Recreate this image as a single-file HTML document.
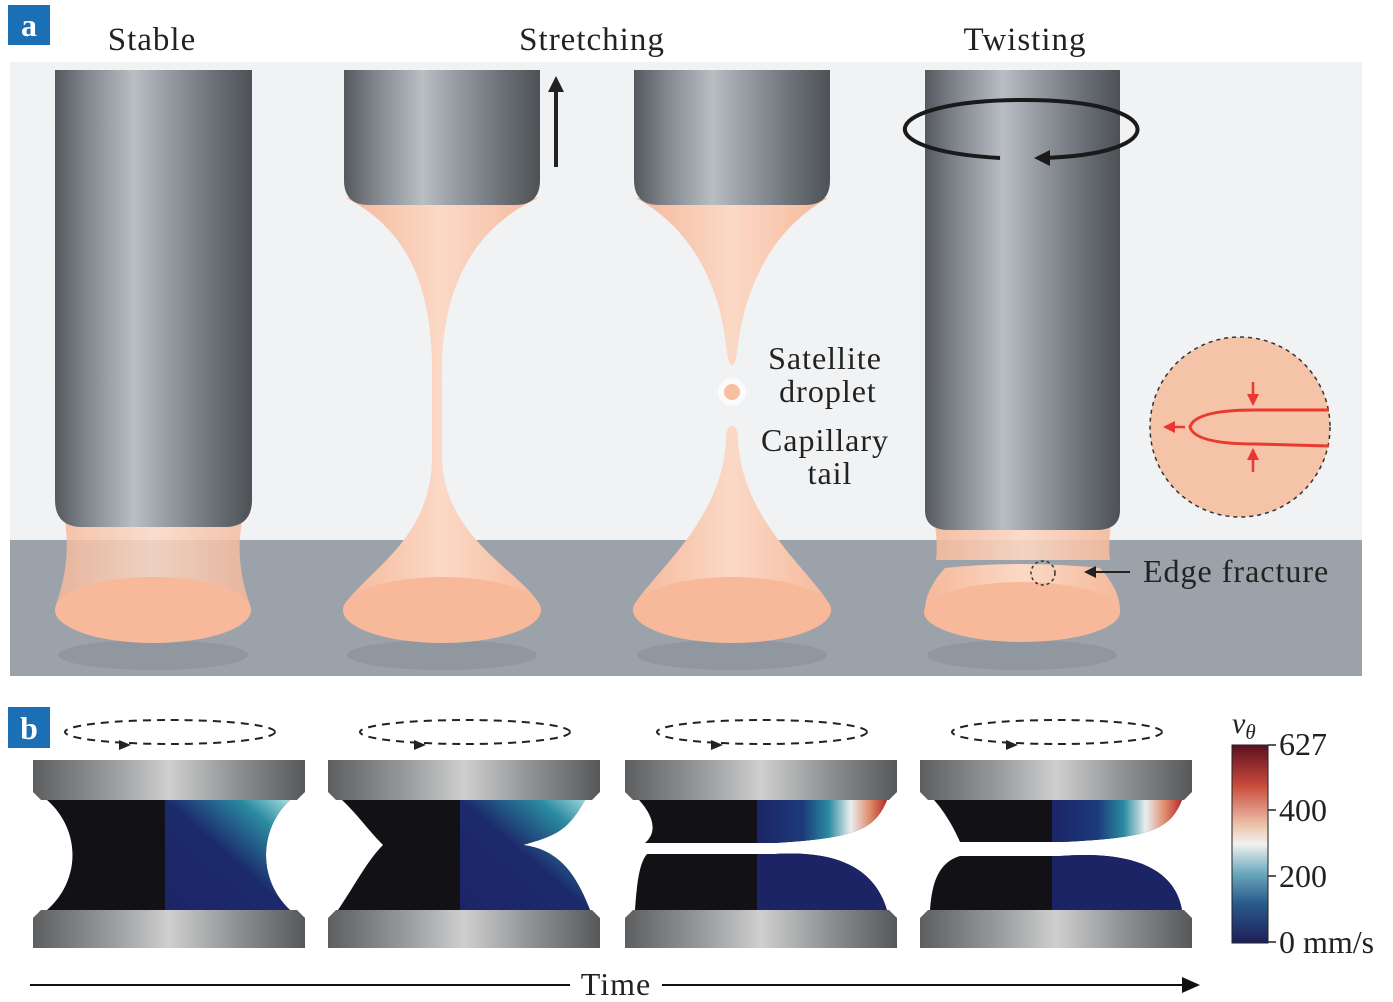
<!DOCTYPE html>
<html><head><meta charset="utf-8"><style>
body{margin:0;background:#fff;width:1393px;height:1002px;overflow:hidden}
svg{display:block}
text{font-family:"Liberation Serif",serif}
</style></head><body>
<svg width="1393" height="1002" viewBox="0 0 1393 1002">
<defs>
<linearGradient id="cyl" x1="0" x2="1" y1="0" y2="0">
<stop offset="0" stop-color="#55595e"/><stop offset="0.15" stop-color="#7d8389"/><stop offset="0.4" stop-color="#b9bec3"/><stop offset="0.55" stop-color="#9aa0a6"/><stop offset="0.8" stop-color="#6c7278"/><stop offset="1" stop-color="#4d5156"/>
</linearGradient>
<linearGradient id="plate" x1="0" x2="1">
<stop offset="0" stop-color="#5c5e60"/><stop offset="0.3" stop-color="#9b9d9f"/><stop offset="0.5" stop-color="#cfcfcf"/><stop offset="0.75" stop-color="#8e9092"/><stop offset="1" stop-color="#56585a"/>
</linearGradient>
<linearGradient id="fluid" x1="0" x2="1">
<stop offset="0" stop-color="#f5b89a"/><stop offset="0.5" stop-color="#fbd9c6"/><stop offset="1" stop-color="#f5b89a"/>
</linearGradient>
<linearGradient id="vel" x1="0" x2="1">
<stop offset="0" stop-color="#1c2466"/><stop offset="0.35" stop-color="#1c3a7a"/><stop offset="0.55" stop-color="#2a8aa0"/><stop offset="0.72" stop-color="#e8eef0"/><stop offset="0.87" stop-color="#e08a6a"/><stop offset="1" stop-color="#b52a2a"/>
</linearGradient>
<linearGradient id="vel2" x1="0" x2="1" y1="1" y2="0">
<stop offset="0" stop-color="#1c2466"/><stop offset="0.5" stop-color="#1c2a6c"/><stop offset="0.8" stop-color="#2a8aa0"/><stop offset="1" stop-color="#a8dce0"/>
</linearGradient>
<linearGradient id="cbar" x1="0" x2="0" y1="0" y2="1">
<stop offset="0" stop-color="#5a1020"/><stop offset="0.2" stop-color="#c8483a"/><stop offset="0.4" stop-color="#ecc0a8"/><stop offset="0.5" stop-color="#f2f2ee"/><stop offset="0.65" stop-color="#6aa8bc"/><stop offset="0.8" stop-color="#2a5a8a"/><stop offset="1" stop-color="#1e1f5a"/>
</linearGradient>
<marker id="ar" markerWidth="12" markerHeight="12" refX="10" refY="6" orient="auto" markerUnits="userSpaceOnUse"><path d="M0,0 L12,6 L0,12 Z" fill="#e33"/></marker>
</defs>

<rect x="10" y="62" width="1352" height="480" fill="#f0f2f4"/>
<rect x="10" y="540" width="1352" height="136" fill="#9ca2a9"/>
<rect x="8" y="5" width="42" height="40" fill="#1b6fb4"/>
<text x="29" y="36" font-size="32" font-weight="bold" fill="#fff" text-anchor="middle">a</text>
<g font-size="33" text-anchor="middle" fill="#222" letter-spacing="1">
<text x="152" y="50">Stable</text>
<text x="592" y="50">Stretching</text>
<text x="1025" y="50">Twisting</text>
</g>

<g fill="#8f959c" opacity="0.8">
<ellipse cx="153" cy="655" rx="95" ry="15"/><ellipse cx="442" cy="655" rx="95" ry="15"/><ellipse cx="732" cy="655" rx="95" ry="15"/><ellipse cx="1022" cy="655" rx="95" ry="15"/>
</g>

<path d="M62,505 L246,505 C236,540 238,570 250,605 L56,605 C68,570 70,540 62,505 Z" fill="url(#fluid)" opacity="0.85"/>
<ellipse cx="153" cy="610" rx="98" ry="33" fill="#f7b999"/>
<path d="M55,70 L252,70 L252,500 Q252,525 228,527 L79,527 Q55,525 55,500 Z" fill="url(#cyl)"/>

<path d="M346,198 L538,198 C470,230 445,290 442,360 L442,460 C446,540 520,570 540,605 L344,605 C368,570 430,540 432,460 L432,360 C430,290 410,230 346,198 Z" fill="url(#fluid)"/>
<ellipse cx="442" cy="610" rx="99" ry="33" fill="#f7b999"/>
<path d="M344,70 L540,70 L540,180 Q540,205 515,205 L369,205 Q344,205 344,180 Z" fill="url(#cyl)"/>
<line x1="556" y1="167" x2="556" y2="86" stroke="#222" stroke-width="4"/>
<path d="M548,92 L556,76 L564,92 Z" fill="#222"/>

<path d="M636,198 L828,198 C770,230 745,290 738,345 Q736,365 732,365 Q728,365 726,345 C720,290 695,230 636,198 Z" fill="url(#fluid)"/>
<circle cx="732" cy="392" r="14" fill="#fff" opacity="0.7"/>
<circle cx="732" cy="392" r="8" fill="#f7bfa0"/>
<path d="M726,440 Q726,426 732,426 Q738,426 738,440 C742,520 810,570 830,605 L634,605 C656,570 722,520 726,440 Z" fill="url(#fluid)"/>
<ellipse cx="732" cy="610" rx="99" ry="33" fill="#f7b999"/>
<path d="M634,70 L830,70 L830,180 Q830,205 805,205 L659,205 Q634,205 634,180 Z" fill="url(#cyl)"/>
<g font-size="32" text-anchor="middle" fill="#222" letter-spacing="1">
<text x="825" y="369">Satellite</text>
<text x="828" y="402">droplet</text>
<text x="825" y="451">Capillary</text>
<text x="830" y="484">tail</text>
</g>

<path d="M932,505 L1114,505 C1110,530 1108,545 1110,560 L936,560 C938,545 936,530 932,505 Z" fill="url(#fluid)" opacity="0.9"/>
<path d="M945,568 Q1022,560 1100,568 Q1120,590 1120,610 L925,610 Q925,590 945,568 Z" fill="url(#fluid)"/>
<ellipse cx="1022" cy="612" rx="98" ry="30" fill="#f7b999"/>
<path d="M925,70 L1120,70 L1120,510 Q1120,530 1096,530 L949,530 Q925,530 925,510 Z" fill="url(#cyl)"/>
<path d="M1000,158 C860,150 880,100 1024,100 C1170,100 1175,155 1040,158" fill="none" stroke="#1a1a1a" stroke-width="4"/>
<path d="M1050,150 L1034,158 L1050,166 Z" fill="#1a1a1a"/>
<circle cx="1043" cy="573" r="12" fill="none" stroke="#333" stroke-width="1.5" stroke-dasharray="3,3"/>
<line x1="1130" y1="572" x2="1092" y2="572" stroke="#222" stroke-width="2"/>
<path d="M1096,566 L1084,572 L1096,578 Z" fill="#222"/>
<text x="1143" y="582" font-size="32" fill="#222" letter-spacing="1">Edge fracture</text>
<circle cx="1240" cy="427" r="90" fill="#f4c3a8" stroke="#333" stroke-width="1.5" stroke-dasharray="4,4"/>
<path d="M1329,410 L1255,410 Q1195,410 1190,427 Q1195,444 1255,444 L1329,446" fill="none" stroke="#e83a2e" stroke-width="3"/>
<line x1="1185" y1="427" x2="1165" y2="427" stroke="#e83a2e" stroke-width="2.5" marker-end="url(#ar)"/>
<line x1="1253" y1="382" x2="1253" y2="404" stroke="#e83a2e" stroke-width="2.5" marker-end="url(#ar)"/>
<line x1="1253" y1="472" x2="1253" y2="450" stroke="#e83a2e" stroke-width="2.5" marker-end="url(#ar)"/>

<rect x="8" y="707" width="42" height="41" fill="#1b6fb4"/>
<text x="29" y="739" font-size="32" font-weight="bold" fill="#fff" text-anchor="middle">b</text>

<g transform="translate(33,0)">
<ellipse cx="137" cy="732" rx="105" ry="12" fill="none" stroke="#222" stroke-width="2" stroke-dasharray="8,6"/>
<path d="M86,740 L98,745 L86,750 Z" fill="#222"/>
<path d="M14,800 L257,800 C225,830 225,880 257,910 L14,910 C48,880 48,830 14,800 Z" fill="#121216"/>
<path d="M132,800 L257,800 C225,830 225,880 257,910 L132,910 Z" fill="url(#vel2)"/>
<path d="M0,760 L272,760 L272,792 L264,800 L8,800 L0,792 Z" fill="url(#plate)"/>
<path d="M8,910 L264,910 L272,918 L272,948 L0,948 L0,918 Z" fill="url(#plate)"/>
</g>
<g transform="translate(328,0)">
<ellipse cx="137" cy="732" rx="105" ry="12" fill="none" stroke="#222" stroke-width="2" stroke-dasharray="8,6"/>
<path d="M86,740 L98,745 L86,750 Z" fill="#222"/>
<path d="M14,800 L257,800 C240,830 230,835 195,845 C235,850 250,880 262,910 L10,910 C30,880 40,860 55,845 C40,830 30,815 14,800 Z" fill="#121216"/>
<path d="M132,800 L257,800 C240,830 230,835 195,845 C235,850 250,880 262,910 L132,910 Z" fill="url(#vel2)"/>
<path d="M0,760 L272,760 L272,792 L264,800 L8,800 L0,792 Z" fill="url(#plate)"/>
<path d="M8,910 L264,910 L272,918 L272,948 L0,948 L0,918 Z" fill="url(#plate)"/>
</g>
<g transform="translate(625,0)">
<ellipse cx="137" cy="732" rx="105" ry="12" fill="none" stroke="#222" stroke-width="2" stroke-dasharray="8,6"/>
<path d="M86,740 L98,745 L86,750 Z" fill="#222"/>
<path d="M14,800 L262,800 C250,830 230,838 150,843 L20,843 C35,830 25,812 14,800 Z" fill="#121216"/>
<path d="M132,800 L262,800 C250,830 230,838 150,843 L132,843 Z" fill="url(#vel)"/>
<path d="M22,854 L150,854 C215,850 250,870 262,910 L10,910 C12,880 15,862 22,854 Z" fill="#121216"/>
<path d="M132,854 L150,854 C215,850 250,870 262,910 L132,910 Z" fill="#1c2466"/>
<path d="M0,760 L272,760 L272,792 L264,800 L8,800 L0,792 Z" fill="url(#plate)"/>
<path d="M8,910 L264,910 L272,918 L272,948 L0,948 L0,918 Z" fill="url(#plate)"/>
</g>
<g transform="translate(920,0)">
<ellipse cx="137" cy="732" rx="105" ry="12" fill="none" stroke="#222" stroke-width="2" stroke-dasharray="8,6"/>
<path d="M86,740 L98,745 L86,750 Z" fill="#222"/>
<path d="M14,800 L262,800 C250,830 230,838 140,842 L40,842 C35,830 25,812 14,800 Z" fill="#121216"/>
<path d="M132,800 L262,800 C250,830 230,838 140,842 L132,842 Z" fill="url(#vel)"/>
<path d="M40,856 L140,856 C215,850 255,870 262,910 L10,910 C12,880 20,862 40,856 Z" fill="#121216"/>
<path d="M132,856 L140,856 C215,850 255,870 262,910 L132,910 Z" fill="#1c2466"/>
<path d="M0,760 L272,760 L272,792 L264,800 L8,800 L0,792 Z" fill="url(#plate)"/>
<path d="M8,910 L264,910 L272,918 L272,948 L0,948 L0,918 Z" fill="url(#plate)"/>
</g>

<rect x="1232" y="745" width="36" height="198" fill="url(#cbar)" stroke="#222" stroke-width="1"/>
<g stroke="#222" stroke-width="1.5">
<line x1="1268" y1="745" x2="1276" y2="745"/><line x1="1268" y1="810" x2="1276" y2="810"/><line x1="1268" y1="876" x2="1276" y2="876"/><line x1="1268" y1="942" x2="1276" y2="942"/>
</g>
<text x="1232" y="733" font-size="30" font-style="italic" fill="#222">v<tspan font-size="21" dy="6">θ</tspan></text>
<g font-size="32" fill="#222">
<text x="1279" y="755">627</text>
<text x="1279" y="821">400</text>
<text x="1279" y="887">200</text>
<text x="1279" y="953">0 mm/s</text>
</g>

<line x1="30" y1="985" x2="570" y2="985" stroke="#111" stroke-width="2"/>
<line x1="662" y1="985" x2="1185" y2="985" stroke="#111" stroke-width="2"/>
<path d="M1182,977 L1200,985 L1182,993 Z" fill="#111"/>
<text x="616" y="995" font-size="32" text-anchor="middle" fill="#222" letter-spacing="1">Time</text>
</svg>
</body></html>
